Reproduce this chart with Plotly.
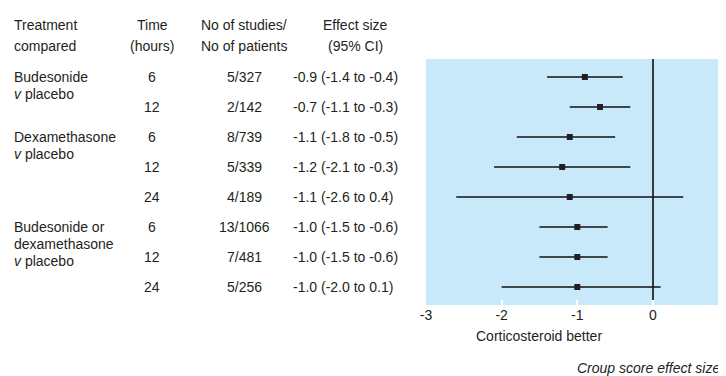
import plotly.graph_objects as go

# ---- data ----
rows = [1, 2, 3, 4, 5, 6, 7, 8]
times = ["6", "12", "6", "12", "24", "6", "12", "24"]
studies = ["5/327", "2/142", "8/739", "5/339", "4/189", "13/1066", "7/481", "5/256"]
effect = [-0.9, -0.7, -1.1, -1.2, -1.1, -1.0, -1.0, -1.0]
ci_low = [-1.4, -1.1, -1.8, -2.1, -2.6, -1.5, -1.5, -2.0]
ci_high = [-0.4, -0.3, -0.5, -0.3, 0.4, -0.6, -0.6, 0.1]
effect_labels = [f"{e:.1f} ({l:.1f} to {h:.1f})" for e, l, h in zip(effect, ci_low, ci_high)]
groups = [
    (1, ["Budesonide", "<i>v</i> placebo"]),
    (3, ["Dexamethasone", "<i>v</i> placebo"]),
    (6, ["Budesonide or", "dexamethasone", "<i>v</i> placebo"]),
]
tick_vals = [-3, -2, -1, 0]
tick_text = ["-3", "-2", "-1", "0"]

FONT = "Liberation Sans, Arial, sans-serif"
FS = 14
TXT = "#231f20"

OFF = 8  # page body margin
W, H = 726 - OFF, 376 - OFF
L = 426 - OFF
T = 59 - OFF
B = H - (305 - OFF)
plot_w = W - L
plot_h = H - T - B
XMAX = 0.965

fig = go.Figure()
fig.add_trace(go.Scatter(
    x=effect, y=rows, mode="markers",
    marker=dict(symbol="square", size=6, color="#231f20"),
    error_x=dict(type="data", symmetric=False,
                 array=[h - e for e, h in zip(effect, ci_high)],
                 arrayminus=[e - l for e, l in zip(effect, ci_low)],
                 color="#111111", thickness=1.6, width=0),
    showlegend=False, hoverinfo="skip",
))

def pxx(page_x):
    return (page_x - OFF - L) / plot_w

def pxy(page_y):
    return (H - B - (page_y - OFF)) / plot_h

ann = []
def add(text, xpage, y, xanchor, yref="y"):
    ann.append(dict(text=text, x=pxx(xpage), xref="paper", y=y, yref=yref,
                    xanchor=xanchor, yanchor="middle", showarrow=False,
                    font=dict(family=FONT, size=FS, color=TXT)))

for txt, xp, anchor in [("Treatment", 12, "left"), ("Time", 152, "center"),
                        ("No of studies/", 244, "center"), ("Effect size", 355, "center")]:
    add(txt, xp, pxy(25), anchor, yref="paper")
for txt, xp, anchor in [("compared", 12, "left"), ("(hours)", 152, "center"),
                        ("No of patients", 244, "center"), ("(95% CI)", 355, "center")]:
    add(txt, xp, pxy(46), anchor, yref="paper")

for r, t, s, e in zip(rows, times, studies, effect_labels):
    add(t, 152, r, "center")
    add(s, 244, r, "center")
    add(e, 291, r, "left")

for r, lines in groups:
    for i, line in enumerate(lines):
        add(line, 12, r + i * 0.56, "left")

# axis label under the negative side
add("Corticosteroid better", 426 + (-1.5 + 3) / (XMAX + 3) * (726 - 426), pxy(336), "center", yref="paper")
add("<i>Croup score effect size</i>", 575, pxy(368), "left", yref="paper")
# partially visible "1" tick label at the right edge
add("1", 729, pxy(316), "center", yref="paper")

fig.update_layout(
    width=W, height=H,
    margin=dict(l=L, r=0, t=T, b=B, pad=0),
    paper_bgcolor="white", plot_bgcolor="#c8e9f9",
    annotations=ann,
    xaxis=dict(range=[-3, XMAX], tickvals=tick_vals, ticktext=tick_text,
               ticks="inside", ticklen=5, tickwidth=2, tickcolor="white",
               showgrid=False, zeroline=True, zerolinecolor="#3a3a3a", zerolinewidth=2,
               showline=False, tickfont=dict(family=FONT, size=FS, color=TXT)),
    yaxis=dict(range=[8.6, 0.4], showticklabels=False, showgrid=False,
               zeroline=False, ticks="", showline=False),
)

fig.write_html("out.html")
